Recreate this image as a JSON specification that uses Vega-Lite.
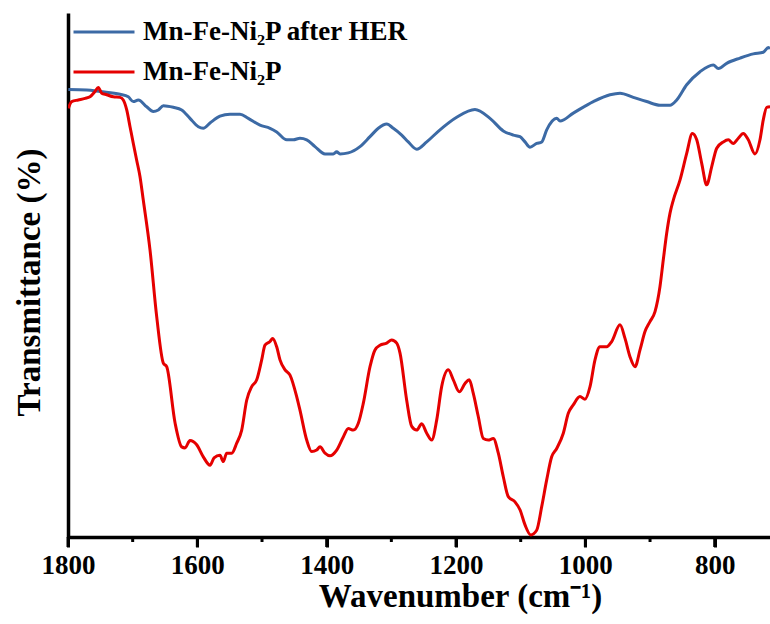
{
  "$schema": "https://vega.github.io/schema/vega-lite/v6.json",
  "width": 702,
  "height": 524,
  "autosize": "none",
  "padding": {"left": 68, "top": 13, "right": 0, "bottom": 87},
  "background": "white",
  "config": {
    "view": {"stroke": null},
    "font": "Liberation Serif",
    "legend": {
      "labelFont": "Liberation Serif",
      "labelFontWeight": "bold",
      "labelFontSize": 27,
      "labelColor": "black"
    }
  },
  "datasets": {
    "major": [{"v": 1800}, {"v": 1600}, {"v": 1400}, {"v": 1200}, {"v": 1000}, {"v": 800}],
    "minor": [{"v": 1700}, {"v": 1500}, {"v": 1300}, {"v": 1100}, {"v": 900}],
    "ir": [
      {"s": "Mn-Fe-Ni₂P after HER", "wn": 1799.5, "t": 85.4},
      {"s": "Mn-Fe-Ni₂P after HER", "wn": 1771.1, "t": 85.3},
      {"s": "Mn-Fe-Ni₂P after HER", "wn": 1750.5, "t": 85.0},
      {"s": "Mn-Fe-Ni₂P after HER", "wn": 1719.6, "t": 84.5},
      {"s": "Mn-Fe-Ni₂P after HER", "wn": 1706.8, "t": 84.0},
      {"s": "Mn-Fe-Ni₂P after HER", "wn": 1699.0, "t": 83.1},
      {"s": "Mn-Fe-Ni₂P after HER", "wn": 1691.3, "t": 83.4},
      {"s": "Mn-Fe-Ni₂P after HER", "wn": 1678.3, "t": 82.1},
      {"s": "Mn-Fe-Ni₂P after HER", "wn": 1668.1, "t": 81.2},
      {"s": "Mn-Fe-Ni₂P after HER", "wn": 1660.4, "t": 81.5},
      {"s": "Mn-Fe-Ni₂P after HER", "wn": 1652.6, "t": 82.3},
      {"s": "Mn-Fe-Ni₂P after HER", "wn": 1637.2, "t": 82.0},
      {"s": "Mn-Fe-Ni₂P after HER", "wn": 1624.2, "t": 81.5},
      {"s": "Mn-Fe-Ni₂P after HER", "wn": 1611.4, "t": 79.9},
      {"s": "Mn-Fe-Ni₂P after HER", "wn": 1598.5, "t": 78.3},
      {"s": "Mn-Fe-Ni₂P after HER", "wn": 1590.8, "t": 78.0},
      {"s": "Mn-Fe-Ni₂P after HER", "wn": 1580.4, "t": 79.0},
      {"s": "Mn-Fe-Ni₂P after HER", "wn": 1565.0, "t": 80.3},
      {"s": "Mn-Fe-Ni₂P after HER", "wn": 1549.5, "t": 80.7},
      {"s": "Mn-Fe-Ni₂P after HER", "wn": 1534.0, "t": 80.7},
      {"s": "Mn-Fe-Ni₂P after HER", "wn": 1521.2, "t": 79.9},
      {"s": "Mn-Fe-Ni₂P after HER", "wn": 1503.1, "t": 78.6},
      {"s": "Mn-Fe-Ni₂P after HER", "wn": 1487.6, "t": 78.0},
      {"s": "Mn-Fe-Ni₂P after HER", "wn": 1477.3, "t": 77.3},
      {"s": "Mn-Fe-Ni₂P after HER", "wn": 1461.8, "t": 75.8},
      {"s": "Mn-Fe-Ni₂P after HER", "wn": 1451.6, "t": 75.8},
      {"s": "Mn-Fe-Ni₂P after HER", "wn": 1441.3, "t": 76.1},
      {"s": "Mn-Fe-Ni₂P after HER", "wn": 1430.9, "t": 75.8},
      {"s": "Mn-Fe-Ni₂P after HER", "wn": 1418.1, "t": 74.5},
      {"s": "Mn-Fe-Ni₂P after HER", "wn": 1402.6, "t": 73.1},
      {"s": "Mn-Fe-Ni₂P after HER", "wn": 1389.8, "t": 73.1},
      {"s": "Mn-Fe-Ni₂P after HER", "wn": 1384.5, "t": 73.5},
      {"s": "Mn-Fe-Ni₂P after HER", "wn": 1379.4, "t": 73.1},
      {"s": "Mn-Fe-Ni₂P after HER", "wn": 1366.6, "t": 73.3},
      {"s": "Mn-Fe-Ni₂P after HER", "wn": 1348.5, "t": 74.5},
      {"s": "Mn-Fe-Ni₂P after HER", "wn": 1333.0, "t": 76.4},
      {"s": "Mn-Fe-Ni₂P after HER", "wn": 1320.2, "t": 78.0},
      {"s": "Mn-Fe-Ni₂P after HER", "wn": 1307.2, "t": 78.8},
      {"s": "Mn-Fe-Ni₂P after HER", "wn": 1297.0, "t": 78.0},
      {"s": "Mn-Fe-Ni₂P after HER", "wn": 1284.0, "t": 76.7},
      {"s": "Mn-Fe-Ni₂P after HER", "wn": 1273.8, "t": 75.4},
      {"s": "Mn-Fe-Ni₂P after HER", "wn": 1260.8, "t": 74.0},
      {"s": "Mn-Fe-Ni₂P after HER", "wn": 1245.3, "t": 75.4},
      {"s": "Mn-Fe-Ni₂P after HER", "wn": 1224.8, "t": 77.7},
      {"s": "Mn-Fe-Ni₂P after HER", "wn": 1199.0, "t": 80.1},
      {"s": "Mn-Fe-Ni₂P after HER", "wn": 1170.7, "t": 81.6},
      {"s": "Mn-Fe-Ni₂P after HER", "wn": 1147.5, "t": 79.9},
      {"s": "Mn-Fe-Ni₂P after HER", "wn": 1126.9, "t": 77.5},
      {"s": "Mn-Fe-Ni₂P after HER", "wn": 1111.4, "t": 76.7},
      {"s": "Mn-Fe-Ni₂P after HER", "wn": 1101.1, "t": 76.4},
      {"s": "Mn-Fe-Ni₂P after HER", "wn": 1093.3, "t": 75.4},
      {"s": "Mn-Fe-Ni₂P after HER", "wn": 1085.6, "t": 74.4},
      {"s": "Mn-Fe-Ni₂P after HER", "wn": 1075.3, "t": 75.1},
      {"s": "Mn-Fe-Ni₂P after HER", "wn": 1067.5, "t": 75.4},
      {"s": "Mn-Fe-Ni₂P after HER", "wn": 1059.8, "t": 77.7},
      {"s": "Mn-Fe-Ni₂P after HER", "wn": 1044.3, "t": 79.9},
      {"s": "Mn-Fe-Ni₂P after HER", "wn": 1039.2, "t": 79.4},
      {"s": "Mn-Fe-Ni₂P after HER", "wn": 1018.7, "t": 80.9},
      {"s": "Mn-Fe-Ni₂P after HER", "wn": 987.7, "t": 83.1},
      {"s": "Mn-Fe-Ni₂P after HER", "wn": 961.9, "t": 84.4},
      {"s": "Mn-Fe-Ni₂P after HER", "wn": 946.4, "t": 84.7},
      {"s": "Mn-Fe-Ni₂P after HER", "wn": 925.9, "t": 83.9},
      {"s": "Mn-Fe-Ni₂P after HER", "wn": 905.2, "t": 83.1},
      {"s": "Mn-Fe-Ni₂P after HER", "wn": 884.6, "t": 82.4},
      {"s": "Mn-Fe-Ni₂P after HER", "wn": 869.1, "t": 82.4},
      {"s": "Mn-Fe-Ni₂P after HER", "wn": 858.8, "t": 83.4},
      {"s": "Mn-Fe-Ni₂P after HER", "wn": 843.3, "t": 86.3},
      {"s": "Mn-Fe-Ni₂P after HER", "wn": 822.7, "t": 88.8},
      {"s": "Mn-Fe-Ni₂P after HER", "wn": 802.2, "t": 90.1},
      {"s": "Mn-Fe-Ni₂P after HER", "wn": 794.4, "t": 89.4},
      {"s": "Mn-Fe-Ni₂P after HER", "wn": 781.5, "t": 90.4},
      {"s": "Mn-Fe-Ni₂P after HER", "wn": 760.9, "t": 91.4},
      {"s": "Mn-Fe-Ni₂P after HER", "wn": 740.3, "t": 92.2},
      {"s": "Mn-Fe-Ni₂P after HER", "wn": 724.9, "t": 92.5},
      {"s": "Mn-Fe-Ni₂P after HER", "wn": 717.1, "t": 93.4},
      {"s": "Mn-Fe-Ni₂P after HER", "wn": 714.5, "t": 93.2},
      {"s": "Mn-Fe-Ni₂P", "wn": 1799.5, "t": 81.8},
      {"s": "Mn-Fe-Ni₂P", "wn": 1794.3, "t": 83.1},
      {"s": "Mn-Fe-Ni₂P", "wn": 1784.1, "t": 83.4},
      {"s": "Mn-Fe-Ni₂P", "wn": 1773.7, "t": 83.7},
      {"s": "Mn-Fe-Ni₂P", "wn": 1766.0, "t": 84.0},
      {"s": "Mn-Fe-Ni₂P", "wn": 1758.3, "t": 85.0},
      {"s": "Mn-Fe-Ni₂P", "wn": 1753.1, "t": 85.8},
      {"s": "Mn-Fe-Ni₂P", "wn": 1747.9, "t": 84.7},
      {"s": "Mn-Fe-Ni₂P", "wn": 1740.2, "t": 84.4},
      {"s": "Mn-Fe-Ni₂P", "wn": 1730.0, "t": 84.0},
      {"s": "Mn-Fe-Ni₂P", "wn": 1719.6, "t": 83.9},
      {"s": "Mn-Fe-Ni₂P", "wn": 1714.5, "t": 83.4},
      {"s": "Mn-Fe-Ni₂P", "wn": 1709.2, "t": 81.5},
      {"s": "Mn-Fe-Ni₂P", "wn": 1704.1, "t": 78.3},
      {"s": "Mn-Fe-Ni₂P", "wn": 1699.0, "t": 75.1},
      {"s": "Mn-Fe-Ni₂P", "wn": 1693.8, "t": 71.9},
      {"s": "Mn-Fe-Ni₂P", "wn": 1688.7, "t": 68.8},
      {"s": "Mn-Fe-Ni₂P", "wn": 1683.6, "t": 64.3},
      {"s": "Mn-Fe-Ni₂P", "wn": 1673.2, "t": 54.8},
      {"s": "Mn-Fe-Ni₂P", "wn": 1662.8, "t": 42.0},
      {"s": "Mn-Fe-Ni₂P", "wn": 1652.6, "t": 33.2},
      {"s": "Mn-Fe-Ni₂P", "wn": 1647.4, "t": 32.5},
      {"s": "Mn-Fe-Ni₂P", "wn": 1634.5, "t": 21.8},
      {"s": "Mn-Fe-Ni₂P", "wn": 1624.2, "t": 17.2},
      {"s": "Mn-Fe-Ni₂P", "wn": 1619.1, "t": 17.0},
      {"s": "Mn-Fe-Ni₂P", "wn": 1611.4, "t": 18.4},
      {"s": "Mn-Fe-Ni₂P", "wn": 1601.0, "t": 17.6},
      {"s": "Mn-Fe-Ni₂P", "wn": 1590.8, "t": 15.3},
      {"s": "Mn-Fe-Ni₂P", "wn": 1580.4, "t": 13.7},
      {"s": "Mn-Fe-Ni₂P", "wn": 1574.2, "t": 15.1},
      {"s": "Mn-Fe-Ni₂P", "wn": 1565.0, "t": 15.6},
      {"s": "Mn-Fe-Ni₂P", "wn": 1559.9, "t": 14.4},
      {"s": "Mn-Fe-Ni₂P", "wn": 1554.6, "t": 16.0},
      {"s": "Mn-Fe-Ni₂P", "wn": 1546.9, "t": 16.0},
      {"s": "Mn-Fe-Ni₂P", "wn": 1539.1, "t": 17.9},
      {"s": "Mn-Fe-Ni₂P", "wn": 1531.4, "t": 20.4},
      {"s": "Mn-Fe-Ni₂P", "wn": 1523.7, "t": 26.1},
      {"s": "Mn-Fe-Ni₂P", "wn": 1515.9, "t": 28.7},
      {"s": "Mn-Fe-Ni₂P", "wn": 1508.2, "t": 30.0},
      {"s": "Mn-Fe-Ni₂P", "wn": 1500.5, "t": 33.8},
      {"s": "Mn-Fe-Ni₂P", "wn": 1495.4, "t": 36.6},
      {"s": "Mn-Fe-Ni₂P", "wn": 1487.6, "t": 37.3},
      {"s": "Mn-Fe-Ni₂P", "wn": 1483.5, "t": 37.9},
      {"s": "Mn-Fe-Ni₂P", "wn": 1477.3, "t": 36.3},
      {"s": "Mn-Fe-Ni₂P", "wn": 1472.2, "t": 33.8},
      {"s": "Mn-Fe-Ni₂P", "wn": 1464.4, "t": 31.9},
      {"s": "Mn-Fe-Ni₂P", "wn": 1456.7, "t": 30.9},
      {"s": "Mn-Fe-Ni₂P", "wn": 1446.4, "t": 26.8},
      {"s": "Mn-Fe-Ni₂P", "wn": 1441.3, "t": 24.2},
      {"s": "Mn-Fe-Ni₂P", "wn": 1430.9, "t": 18.5},
      {"s": "Mn-Fe-Ni₂P", "wn": 1423.2, "t": 16.3},
      {"s": "Mn-Fe-Ni₂P", "wn": 1415.4, "t": 16.6},
      {"s": "Mn-Fe-Ni₂P", "wn": 1410.3, "t": 17.2},
      {"s": "Mn-Fe-Ni₂P", "wn": 1402.6, "t": 16.0},
      {"s": "Mn-Fe-Ni₂P", "wn": 1394.9, "t": 15.5},
      {"s": "Mn-Fe-Ni₂P", "wn": 1384.5, "t": 16.6},
      {"s": "Mn-Fe-Ni₂P", "wn": 1374.3, "t": 19.1},
      {"s": "Mn-Fe-Ni₂P", "wn": 1366.6, "t": 20.7},
      {"s": "Mn-Fe-Ni₂P", "wn": 1358.8, "t": 20.4},
      {"s": "Mn-Fe-Ni₂P", "wn": 1351.1, "t": 21.7},
      {"s": "Mn-Fe-Ni₂P", "wn": 1343.4, "t": 25.5},
      {"s": "Mn-Fe-Ni₂P", "wn": 1333.0, "t": 32.5},
      {"s": "Mn-Fe-Ni₂P", "wn": 1325.3, "t": 35.7},
      {"s": "Mn-Fe-Ni₂P", "wn": 1317.6, "t": 36.6},
      {"s": "Mn-Fe-Ni₂P", "wn": 1307.2, "t": 37.0},
      {"s": "Mn-Fe-Ni₂P", "wn": 1299.5, "t": 37.6},
      {"s": "Mn-Fe-Ni₂P", "wn": 1291.7, "t": 37.0},
      {"s": "Mn-Fe-Ni₂P", "wn": 1286.6, "t": 35.1},
      {"s": "Mn-Fe-Ni₂P", "wn": 1276.3, "t": 26.1},
      {"s": "Mn-Fe-Ni₂P", "wn": 1268.5, "t": 21.1},
      {"s": "Mn-Fe-Ni₂P", "wn": 1260.8, "t": 20.4},
      {"s": "Mn-Fe-Ni₂P", "wn": 1253.1, "t": 21.6},
      {"s": "Mn-Fe-Ni₂P", "wn": 1245.3, "t": 19.8},
      {"s": "Mn-Fe-Ni₂P", "wn": 1237.6, "t": 18.5},
      {"s": "Mn-Fe-Ni₂P", "wn": 1229.9, "t": 22.3},
      {"s": "Mn-Fe-Ni₂P", "wn": 1222.2, "t": 28.7},
      {"s": "Mn-Fe-Ni₂P", "wn": 1211.9, "t": 31.9},
      {"s": "Mn-Fe-Ni₂P", "wn": 1204.2, "t": 30.0},
      {"s": "Mn-Fe-Ni₂P", "wn": 1194.9, "t": 27.7},
      {"s": "Mn-Fe-Ni₂P", "wn": 1186.1, "t": 29.3},
      {"s": "Mn-Fe-Ni₂P", "wn": 1179.5, "t": 30.0},
      {"s": "Mn-Fe-Ni₂P", "wn": 1173.3, "t": 27.4},
      {"s": "Mn-Fe-Ni₂P", "wn": 1165.6, "t": 23.0},
      {"s": "Mn-Fe-Ni₂P", "wn": 1157.8, "t": 18.8},
      {"s": "Mn-Fe-Ni₂P", "wn": 1150.1, "t": 18.5},
      {"s": "Mn-Fe-Ni₂P", "wn": 1142.4, "t": 18.8},
      {"s": "Mn-Fe-Ni₂P", "wn": 1134.6, "t": 16.0},
      {"s": "Mn-Fe-Ni₂P", "wn": 1126.9, "t": 11.5},
      {"s": "Mn-Fe-Ni₂P", "wn": 1119.2, "t": 7.7},
      {"s": "Mn-Fe-Ni₂P", "wn": 1108.8, "t": 6.7},
      {"s": "Mn-Fe-Ni₂P", "wn": 1101.1, "t": 5.2},
      {"s": "Mn-Fe-Ni₂P", "wn": 1093.3, "t": 2.3},
      {"s": "Mn-Fe-Ni₂P", "wn": 1084.5, "t": 0.4},
      {"s": "Mn-Fe-Ni₂P", "wn": 1075.3, "t": 1.3},
      {"s": "Mn-Fe-Ni₂P", "wn": 1067.5, "t": 5.8},
      {"s": "Mn-Fe-Ni₂P", "wn": 1059.8, "t": 10.9},
      {"s": "Mn-Fe-Ni₂P", "wn": 1052.1, "t": 15.3},
      {"s": "Mn-Fe-Ni₂P", "wn": 1044.3, "t": 16.9},
      {"s": "Mn-Fe-Ni₂P", "wn": 1034.1, "t": 19.8},
      {"s": "Mn-Fe-Ni₂P", "wn": 1026.4, "t": 23.6},
      {"s": "Mn-Fe-Ni₂P", "wn": 1018.7, "t": 25.2},
      {"s": "Mn-Fe-Ni₂P", "wn": 1008.3, "t": 26.8},
      {"s": "Mn-Fe-Ni₂P", "wn": 1000.6, "t": 26.3},
      {"s": "Mn-Fe-Ni₂P", "wn": 992.8, "t": 28.7},
      {"s": "Mn-Fe-Ni₂P", "wn": 985.1, "t": 33.8},
      {"s": "Mn-Fe-Ni₂P", "wn": 977.4, "t": 36.3},
      {"s": "Mn-Fe-Ni₂P", "wn": 967.0, "t": 36.3},
      {"s": "Mn-Fe-Ni₂P", "wn": 959.3, "t": 37.3},
      {"s": "Mn-Fe-Ni₂P", "wn": 946.4, "t": 40.5},
      {"s": "Mn-Fe-Ni₂P", "wn": 938.7, "t": 37.9},
      {"s": "Mn-Fe-Ni₂P", "wn": 931.0, "t": 34.4},
      {"s": "Mn-Fe-Ni₂P", "wn": 923.2, "t": 32.5},
      {"s": "Mn-Fe-Ni₂P", "wn": 915.5, "t": 35.7},
      {"s": "Mn-Fe-Ni₂P", "wn": 907.8, "t": 39.2},
      {"s": "Mn-Fe-Ni₂P", "wn": 900.1, "t": 41.1},
      {"s": "Mn-Fe-Ni₂P", "wn": 892.3, "t": 43.0},
      {"s": "Mn-Fe-Ni₂P", "wn": 884.6, "t": 47.8},
      {"s": "Mn-Fe-Ni₂P", "wn": 879.5, "t": 52.9},
      {"s": "Mn-Fe-Ni₂P", "wn": 874.2, "t": 58.0},
      {"s": "Mn-Fe-Ni₂P", "wn": 869.1, "t": 61.8},
      {"s": "Mn-Fe-Ni₂P", "wn": 864.0, "t": 64.3},
      {"s": "Mn-Fe-Ni₂P", "wn": 853.7, "t": 68.1},
      {"s": "Mn-Fe-Ni₂P", "wn": 843.3, "t": 73.2},
      {"s": "Mn-Fe-Ni₂P", "wn": 834.6, "t": 77.0},
      {"s": "Mn-Fe-Ni₂P", "wn": 827.8, "t": 75.8},
      {"s": "Mn-Fe-Ni₂P", "wn": 820.1, "t": 71.3},
      {"s": "Mn-Fe-Ni₂P", "wn": 812.4, "t": 67.2},
      {"s": "Mn-Fe-Ni₂P", "wn": 804.6, "t": 70.7},
      {"s": "Mn-Fe-Ni₂P", "wn": 796.9, "t": 74.2},
      {"s": "Mn-Fe-Ni₂P", "wn": 786.7, "t": 75.4},
      {"s": "Mn-Fe-Ni₂P", "wn": 779.0, "t": 75.8},
      {"s": "Mn-Fe-Ni₂P", "wn": 771.2, "t": 75.1},
      {"s": "Mn-Fe-Ni₂P", "wn": 763.5, "t": 76.1},
      {"s": "Mn-Fe-Ni₂P", "wn": 755.8, "t": 77.0},
      {"s": "Mn-Fe-Ni₂P", "wn": 748.1, "t": 75.8},
      {"s": "Mn-Fe-Ni₂P", "wn": 737.7, "t": 73.1},
      {"s": "Mn-Fe-Ni₂P", "wn": 730.0, "t": 75.8},
      {"s": "Mn-Fe-Ni₂P", "wn": 724.9, "t": 79.6},
      {"s": "Mn-Fe-Ni₂P", "wn": 719.6, "t": 82.0},
      {"s": "Mn-Fe-Ni₂P", "wn": 714.5, "t": 82.1}
    ]
  },
  "resolve": {"axis": {"x": "independent"}},
  "layer": [
    {
      "data": {"name": "ir"},
      "mark": {"type": "line", "strokeWidth": 3, "interpolate": "monotone", "clip": true},
      "encoding": {
        "x": {
          "field": "wn",
          "type": "quantitative",
          "scale": {"domain": [1800, 714.5], "nice": false, "zero": false},
          "axis": {
            "orient": "bottom",
            "values": [1800, 1600, 1400, 1200, 1000, 800],
            "format": "d",
            "grid": false,
            "domainColor": "black",
            "domainWidth": 3.5,
            "tickColor": "black",
            "tickWidth": 3,
            "tickSize": 10,
            "labelFont": "Liberation Serif",
            "labelFontWeight": "bold",
            "labelFontSize": 27,
            "labelColor": "black",
            "labelPadding": 5,
            "labelFlush": false,
            "labelOverlap": false,
            "title": "Wavenumber (cm⁻¹)",
            "titleFont": "Liberation Serif",
            "titleFontWeight": "bold",
            "titleFontSize": 33,
            "titleColor": "black",
            "titleX": 392,
            "titleY": 43,
            "titleBaseline": "top"
          }
        },
        "y": {
          "field": "t",
          "type": "quantitative",
          "scale": {"domain": [0, 100], "nice": false},
          "axis": {
            "orient": "left",
            "values": [],
            "grid": false,
            "domainColor": "black",
            "domainWidth": 3.5,
            "title": "Transmittance (%)",
            "titleFont": "Liberation Serif",
            "titleFontWeight": "bold",
            "titleFontSize": 33,
            "titleColor": "black",
            "titlePadding": 22,
            "titleY": 269
          }
        },
        "color": {
          "field": "s",
          "type": "nominal",
          "scale": {"domain": ["Mn-Fe-Ni₂P after HER", "Mn-Fe-Ni₂P"], "range": ["#3C6AA5", "#E50000"]},
          "legend": {
            "orient": "none",
            "legendX": 4,
            "legendY": 5,
            "title": null,
            "symbolType": "stroke",
            "symbolSize": 3721,
            "symbolStrokeWidth": 3,
            "clipHeight": 28,
            "rowPadding": 12,
            "labelOffset": 7,
            "padding": 0,
            "labelLimit": 0
          }
        }
      }
    },
    {
      "data": {"name": "major"},
      "mark": {"type": "rule", "color": "black", "strokeWidth": 3, "clip": false},
      "encoding": {
        "x": {"field": "v", "type": "quantitative", "scale": {"domain": [1800, 714.5], "nice": false, "zero": false}, "axis": null},
        "y": {"datum": 0, "type": "quantitative", "scale": {"domain": [0, 100], "nice": false}},
        "y2": {"datum": -1.91}
      }
    },
    {
      "data": {"name": "minor"},
      "mark": {"type": "rule", "color": "black", "strokeWidth": 3, "clip": false},
      "encoding": {
        "x": {"field": "v", "type": "quantitative", "scale": {"domain": [1800, 714.5], "nice": false, "zero": false}, "axis": null},
        "y": {"datum": 0, "type": "quantitative", "scale": {"domain": [0, 100], "nice": false}},
        "y2": {"datum": -0.95}
      }
    },
    {
      "mark": {"type": "rule", "color": "black", "strokeWidth": 3.5},
      "encoding": {"y": {"datum": 100}}
    }
  ]
}
